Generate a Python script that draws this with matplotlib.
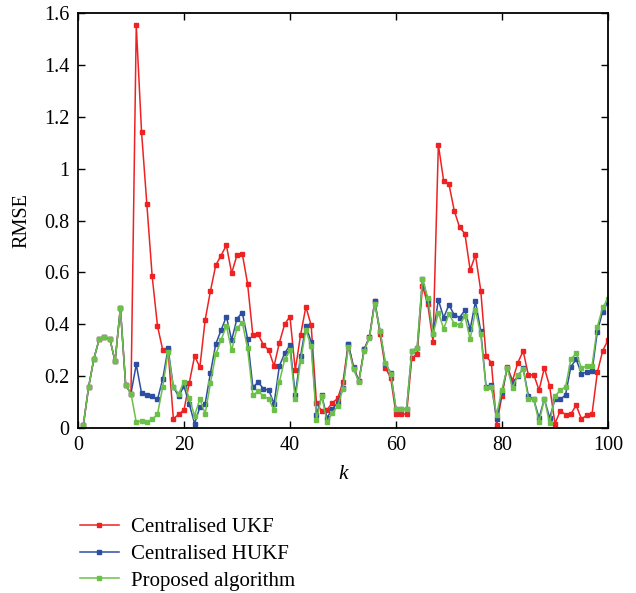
from matplotlib import pyplot as plt
import numpy as np

k = np.arange(1, 101)

ukf = [0.01, 0.157, 0.267, 0.342, 0.352, 0.345, 0.257, 0.463, 0.165, 0.133,
       1.552, 1.14, 0.862, 0.585, 0.394, 0.30, 0.30, 0.035, 0.053, 0.07,
       0.174, 0.277, 0.235, 0.417, 0.529, 0.628, 0.665, 0.705, 0.597, 0.667,
       0.672, 0.557, 0.357, 0.361, 0.32, 0.30, 0.239, 0.329, 0.40, 0.43,
       0.223, 0.359, 0.467, 0.396, 0.097, 0.065, 0.071, 0.097, 0.114, 0.177,
       0.325, 0.236, 0.181, 0.303, 0.351, 0.488, 0.361, 0.232, 0.194, 0.054,
       0.054, 0.054, 0.271, 0.284, 0.548, 0.477, 0.333, 1.092, 0.953, 0.94,
       0.838, 0.774, 0.75, 0.609, 0.667, 0.53, 0.277, 0.252, 0.012, 0.125,
       0.236, 0.183, 0.252, 0.297, 0.203, 0.206, 0.146, 0.232, 0.161, 0.017,
       0.066, 0.052, 0.054, 0.088, 0.035, 0.049, 0.055, 0.215, 0.297, 0.339]

hukf = [0.01, 0.157, 0.267, 0.342, 0.352, 0.345, 0.257, 0.463, 0.165, 0.133,
        0.245, 0.134, 0.127, 0.123, 0.11, 0.19, 0.307, 0.157, 0.123, 0.161,
        0.093, 0.017, 0.08, 0.094, 0.213, 0.324, 0.377, 0.43, 0.339, 0.422,
        0.445, 0.345, 0.157, 0.177, 0.151, 0.146, 0.094, 0.239, 0.288, 0.32,
        0.129, 0.277, 0.394, 0.332, 0.049, 0.126, 0.039, 0.074, 0.097, 0.155,
        0.323, 0.232, 0.181, 0.303, 0.351, 0.488, 0.374, 0.248, 0.213, 0.074,
        0.074, 0.074, 0.297, 0.308, 0.574, 0.495, 0.361, 0.494, 0.426, 0.475,
        0.436, 0.426, 0.454, 0.381, 0.488, 0.374, 0.16, 0.165, 0.035, 0.138,
        0.232, 0.17, 0.20, 0.23, 0.123, 0.11, 0.039, 0.112, 0.039, 0.11,
        0.11, 0.128, 0.236, 0.265, 0.21, 0.215, 0.219, 0.372, 0.449, 0.486]

proposed = [0.01, 0.157, 0.267, 0.342, 0.352, 0.345, 0.257, 0.463, 0.165, 0.133,
            0.022, 0.028, 0.022, 0.033, 0.053, 0.16, 0.293, 0.157, 0.133, 0.177,
            0.114, 0.048, 0.112, 0.055, 0.174, 0.284, 0.339, 0.394, 0.30, 0.385,
            0.406, 0.307, 0.126, 0.142, 0.123, 0.112, 0.068, 0.177, 0.265, 0.30,
            0.11, 0.258, 0.377, 0.316, 0.032, 0.123, 0.023, 0.058, 0.084, 0.151,
            0.312, 0.226, 0.178, 0.297, 0.348, 0.48, 0.374, 0.252, 0.21, 0.074,
            0.074, 0.074, 0.297, 0.308, 0.574, 0.503, 0.361, 0.445, 0.383, 0.439,
            0.403, 0.397, 0.432, 0.342, 0.454, 0.361, 0.155, 0.16, 0.052, 0.148,
            0.232, 0.155, 0.203, 0.228, 0.112, 0.11, 0.023, 0.112, 0.019, 0.123,
            0.145, 0.159, 0.265, 0.288, 0.232, 0.239, 0.241, 0.39, 0.465, 0.499]

plt.rcParams['font.family'] = ['Liberation Serif', 'DejaVu Serif']

fig = plt.figure(figsize=(6.36, 5.93), dpi=100)
ax = fig.add_axes([0.1226, 0.2782, 0.8333, 0.6998])

ax.plot(k, ukf, color='#ee2222', marker='s', markersize=2.8, linewidth=1.1,
        label='Centralised UKF')
ax.plot(k, hukf, color='#2e4fa0', marker='s', markersize=2.8, linewidth=1.1,
        label='Centralised HUKF')
ax.plot(k, proposed, color='#6cc04a', marker='s', markersize=2.8, linewidth=1.1,
        label='Proposed algorithm')

ax.set_xlim(0, 100)
ax.set_ylim(0, 1.6)
ax.set_xticks(np.arange(0, 101, 20))
ax.set_yticks(np.arange(0, 1.61, 0.2))
ax.set_yticklabels(['%g' % round(v, 1) for v in np.arange(0, 1.61, 0.2)])
ax.tick_params(direction='in', top=True, right=True, length=5, width=1,
               labelsize=14.5, pad=6)
for s in ax.spines.values():
    s.set_linewidth(1.3)

ax.set_xlabel('k', fontsize=15.5, style='italic', labelpad=7)
ax.set_ylabel('RMSE', fontsize=14.5, labelpad=9)

fig.legend(loc='upper left', bbox_to_anchor=(0.125, 0.127), frameon=False,
           fontsize=15, handlelength=1.9, labelspacing=0.34, borderpad=0,
           borderaxespad=0, handletextpad=0.55)

fig.savefig('out.png', dpi=100)
